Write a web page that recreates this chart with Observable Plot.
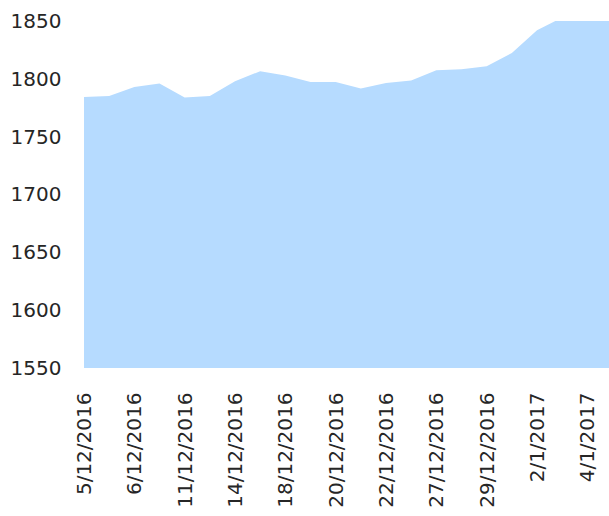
<!DOCTYPE html>
<html>
<head>
<meta charset="utf-8">
<script src="https://cdn.jsdelivr.net/npm/d3@7"></script>
<script src="https://cdn.jsdelivr.net/npm/@observablehq/plot@0.6"></script>
<style>
  html, body { margin: 0; padding: 0; background: #fff; }
  #chart { width: 609px; height: 516px; overflow: hidden; }
</style>
</head>
<body>
<div id="chart"></div>
<script>
const dates = ["5/12/2016","5/12/2016","6/12/2016","7/12/2016","11/12/2016","12/12/2016","14/12/2016","15/12/2016","18/12/2016","19/12/2016","20/12/2016","21/12/2016","22/12/2016","23/12/2016","27/12/2016","28/12/2016","29/12/2016","30/12/2016","2/1/2017","3/1/2017","4/1/2017","5/1/2017"];
const values = [1784.4,1785.2,1793,1795.9,1783.8,1785.2,1797.9,1806.6,1802.8,1797.3,1797.3,1791.6,1796.4,1798.5,1807.4,1808.3,1810.9,1822.4,1842,1853,1856,1858];
const yTicks = [1550,1600,1650,1700,1750,1800,1850];

const data = values.map((v, i) => ({i, v, date: dates[i]}));
const labelIdx = dates.map((d, i) => i).filter(i => i % 2 === 0);

const chart = Plot.plot({
  width: 609,
  height: 516,
  marginLeft: 84,
  marginRight: 0,
  marginTop: 21,
  marginBottom: 148,
  style: {fontFamily: "DejaVu Sans", fontSize: "20px", color: "#262626", background: "#fff"},
  x: {type: "linear", domain: [0, 20.86], axis: null},
  y: {domain: [1550, 1850], axis: null},
  marks: [
    Plot.areaY(data, {x: "i", y: "v", fill: "#b6dbff", clip: true}),
    Plot.axisY({ticks: yTicks, tickSize: 0, tickPadding: 23, tickFormat: d => String(d), fontSize: 20, label: null}),
    Plot.axisX({ticks: labelIdx, tickSize: 0, tickPadding: 24, tickRotate: -90, tickFormat: i => dates[i], fontSize: 20, label: null})
  ]
});
document.getElementById("chart").appendChild(chart);
</script>
</body>
</html>
